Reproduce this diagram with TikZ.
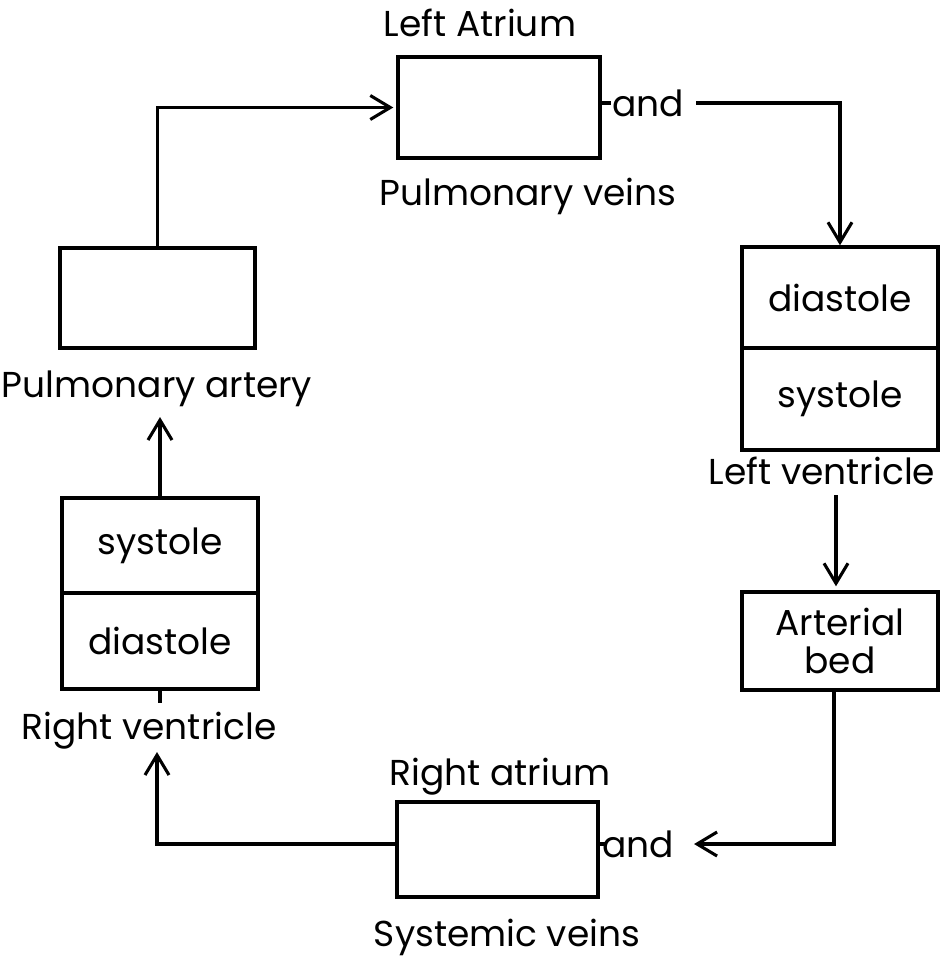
\documentclass[tikz,border=0pt]{standalone}
\usepackage{fontspec}
\setmainfont{Poppins}
\usetikzlibrary{arrows.meta}
\begin{document}
\begin{tikzpicture}[x=1pt,y=-1pt,
  lett/.style={font=\fontsize{36}{40}\selectfont},
  box/.style={draw, line width=3.4pt, inner sep=0pt, align=center, lett},
  lbl/.style={inner sep=0pt, anchor=base, lett},
  conn/.style={line width=3.1pt},
  arr/.style={conn, -{Straight Barb[length=20pt,width=24pt,line width=3.1pt]}}]
\useasboundingbox (0,0) rectangle (946,958);
% boxes
\node[box, minimum width=202pt, minimum height=101pt] (la) at (499,107.5) {};
\node[box, minimum width=195pt, minimum height=100pt] (pa) at (157.5,298) {};
\node[box, minimum width=196pt, minimum height=95pt] (rvtop) at (160,545.5) {systole};
\node[box, minimum width=196pt, minimum height=96pt] (rvbot) at (160,641) {diastole};
\node[box, minimum width=196pt, minimum height=101pt] (lvtop) at (840,297.5) {diastole};
\node[box, minimum width=196pt, minimum height=102pt] (lvbot) at (840,399) {systole};
\node[box, minimum width=196pt, minimum height=98pt] (ab) at (840,641) {Arterial\\[-2pt]bed};
\node[box, minimum width=201pt, minimum height=95pt] (ra) at (497.5,849.5) {};
% labels
\node[lbl] (lalbl) at (480,37) {Left Atrium};
\node[lbl] (pvlbl) at (528,205) {Pulmonary veins};
\node[lbl] (palbl) at (157,397) {Pulmonary artery};
\node[lbl] (lvlbl) at (822,484) {Left ventricle};
\node[lbl] (rvlbl) at (149,739) {Right ventricle};
\node[lbl] (ralbl) at (500,785) {Right atrium};
\node[lbl] (svlbl) at (507,946) {Systemic veins};
\node[inner sep=0pt, lett] (and1) at (648,103) {and};
\node[inner sep=0pt, lett] (and2) at (638,844) {and};
% free ends
\coordinate (patip) at (157,417);
\coordinate (rvtip) at (157,752);
\coordinate (lvs) at (836,495);
\coordinate (absouth) at (834,690);
% connectors
\draw[arr, shorten >=3pt] (pa.north) |- (la.west);
\draw[conn] (la.east |- and1) -- ++(9,0);
\draw[arr, shorten <=12pt] (and1.east) -| (lvtop.north);
\draw[arr, shorten >=4pt] (lvs) -- (lvs |- ab.north);
\draw[arr, shorten >=20pt] (absouth) |- (and2.east);
\draw[conn] (ra.east |- and2) -- ++(6,0);
\draw[arr] (ra.west |- and2) -| (rvtip);
\draw[conn] (rvbot.south) -- ++(0,12);
\draw[arr] (rvtop.north) -- (rvtop.north |- patip);
\end{tikzpicture}
\end{document}
